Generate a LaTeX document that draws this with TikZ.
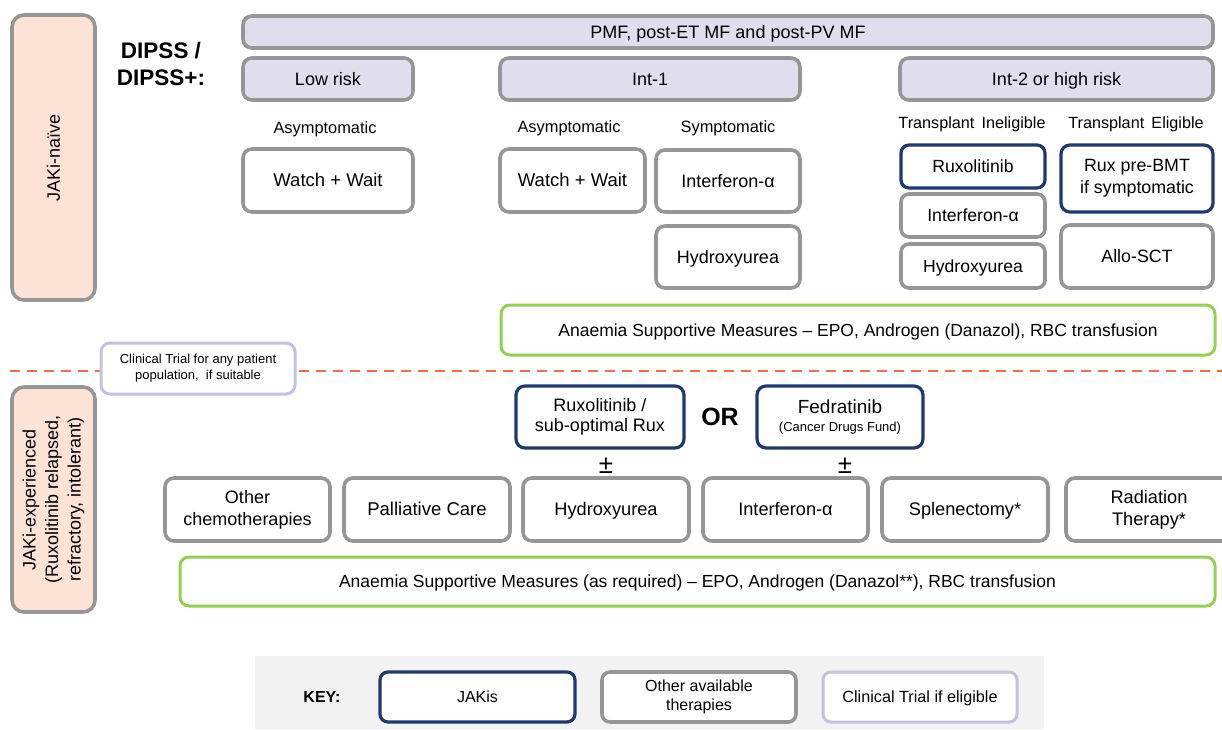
\documentclass[tikz,border=0pt]{standalone}
\usepackage{fontspec}
\setmainfont{Liberation Sans}
\definecolor{graybd}{RGB}{150,150,150}
\definecolor{navy}{RGB}{32,56,112}
\definecolor{grn}{RGB}{146,208,80}
\definecolor{lavfill}{RGB}{224,222,238}
\definecolor{lavbd}{RGB}{196,192,222}
\definecolor{salmon}{RGB}{252,227,214}
\definecolor{dashc}{RGB}{242,110,64}
\definecolor{keybg}{RGB}{242,242,242}
\newcommand\fs[2]{\fontsize{#1}{#2}\selectfont}
\tikzset{
  base/.style={rounded corners=9pt, align=center, inner sep=2pt, fill=white},
  graybox/.style={base, draw=graybd, line width=3.6pt},
  lavhead/.style={graybox, fill=lavfill},
  side/.style={graybox, fill=salmon},
  jakbox/.style={base, draw=navy, line width=3.2pt},
  grnbox/.style={base, draw=grn, line width=3pt},
  ctbox/.style={base, draw=lavbd, line width=3pt},
  lbl/.style={inner sep=0pt, align=center},
  sl/.code={\pgfmathsetlengthmacro\slh{0.72*#1pt}\pgfmathsetlengthmacro\sld{0.02*#1pt}%
    \pgfkeysalso{/tikz/text height/.expanded=\slh, /tikz/text depth/.expanded=\sld}},
}
\begin{document}
\begin{tikzpicture}[x=1pt,y=-1pt]
\useasboundingbox (0,0) rectangle (1222,729);
\clip (0,0) rectangle (1222,729);
\fill[white] (0,0) rectangle (1222,729);

% sidebars
\node[side, minimum width=83, minimum height=285, rounded corners=12pt] (naive) at (53.5,157.5) {};
\node[lbl, rotate=90, font=\fs{18}{21}] (naivet) at (naive.center) {JAKi-naïve};
\node[side, minimum width=83, minimum height=225, rounded corners=12pt] (exp) at (53.5,499.5) {};
\node[lbl, rotate=90, font=\fs{18}{22.5}] (expt) at (exp.center) {JAKi-experienced\\(Ruxolitinib relapsed,\\refractory, intolerant)};

% header
\node[lbl, font=\bfseries\fs{22.5}{27}] (dipss) at (161,64) {DIPSS /\\DIPSS+:};
\node[lavhead, sl=18, minimum width=970, minimum height=32, font=\fs{18}{21}] (pmf) at (728,32) {PMF, post-ET MF and post-PV MF};
\node[lavhead, sl=18, minimum width=170, minimum height=42, font=\fs{18}{21}] (low) at (328,79) {Low risk};
\node[lavhead, sl=18, minimum width=300, minimum height=42, font=\fs{18}{21}] (int1) at (650,79) {Int-1};
\node[lavhead, sl=18, minimum width=313, minimum height=42, font=\fs{18}{21}] (int2) at (1056.5,79) {Int-2 or high risk};

% sub labels
\node[lbl, sl=16.4, font=\fs{16.4}{19}] (asy1) at (325,128) {Asymptomatic};
\node[lbl, sl=16.4, font=\fs{16.4}{19}] (asy2) at (569,127) {Asymptomatic};
\node[lbl, sl=16.4, font=\fs{16.4}{19}] (sym) at (728,127) {Symptomatic};
\node[lbl, sl=16.2, font=\fs{16.2}{19}] (tin) at (972,123) {Transplant\ \,Ineligible};
\node[lbl, sl=16.2, font=\fs{16.2}{19}] (tel) at (1136,123) {Transplant\ \,Eligible};

% JAKi-naive boxes
\node[graybox, sl=18.5, minimum width=170, minimum height=63, font=\fs{18.5}{21}] (ww1) at (328,180.5) {Watch + Wait};
\node[graybox, sl=18.5, minimum width=145, minimum height=63, font=\fs{18.5}{21}] (ww2) at (572.5,180.5) {Watch + Wait};
\node[graybox, sl=18, minimum width=144, minimum height=62, font=\fs{18}{21}] (ifn1) at (728,181) {Interferon-α};
\node[graybox, sl=18, minimum width=144, minimum height=62, font=\fs{18}{21}] (hu1) at (728,257) {Hydroxyurea};
\node[jakbox, sl=17.6, minimum width=144, minimum height=43, font=\fs{17.6}{20}, rounded corners=8pt] (rux1) at (973,166.5) {Ruxolitinib};
\node[graybox, sl=17.6, minimum width=144, minimum height=43, font=\fs{17.6}{20}, rounded corners=8pt] (ifn2) at (973,215.5) {Interferon-α};
\node[graybox, sl=17.6, minimum width=144, minimum height=44, font=\fs{17.6}{20}, rounded corners=8pt] (hu2) at (973,266) {Hydroxyurea};
\node[jakbox, minimum width=152, minimum height=67, font=\fs{17.8}{22}] (ruxbmt) at (1137,178.5) {Rux pre-BMT\\if symptomatic};
\node[graybox, sl=17.8, minimum width=152, minimum height=63, font=\fs{17.8}{20}] (allo) at (1137,256.5) {Allo-SCT};
\node[grnbox, sl=17.5, minimum width=714, minimum height=50, font=\fs{17.5}{20}] (an1) at (858,330) {Anaemia Supportive Measures – EPO, Androgen (Danazol), RBC transfusion};

% divider and clinical trial
\coordinate (dl) at (10,371);
\coordinate (dr) at (1222,371);
\draw[dashc, line width=2.6pt, dash pattern=on 10pt off 7pt] (dl) -- (dr);
\node[ctbox, minimum width=194, minimum height=51, font=\fs{13}{16}] (ct) at (198,368.5) {Clinical Trial for any patient\\population,\ \ if suitable};

% JAKi-experienced
\node[jakbox, minimum width=168, minimum height=62, font=\fs{18}{20}] (ruxsub) at (600,417) {Ruxolitinib /\\sub-optimal Rux};
\node[lbl, sl=25, font=\bfseries\fs{25}{28}] (or) at (720,417) {OR};
\node[jakbox, minimum width=166, minimum height=62, font=\fs{19}{18}] (fed) at (840,417) {Fedratinib\\{\fs{13}{14}(Cancer Drugs Fund)}};
\node[lbl, font=\fs{26}{28}] (pm1) at (606,466) {±};
\node[lbl, font=\fs{26}{28}] (pm2) at (845,466) {±};

\node[graybox, minimum width=165, minimum height=63, font=\fs{18}{22}] (oc) at (247.5,509.5) {Other\\chemotherapies};
\node[graybox, sl=18.5, minimum width=166, minimum height=63, font=\fs{18.5}{21}] (pc) at (427,509.5) {Palliative Care};
\node[graybox, sl=18.2, minimum width=166, minimum height=63, font=\fs{18.2}{21}] (hu3) at (606,509.5) {Hydroxyurea};
\node[graybox, sl=18.2, minimum width=165, minimum height=63, font=\fs{18.2}{21}] (ifn3) at (785.5,509.5) {Interferon-α};
\node[graybox, sl=18.2, minimum width=166, minimum height=63, font=\fs{18.2}{21}] (spl) at (965,509.5) {Splenectomy*};
\node[graybox, minimum width=166, minimum height=63, font=\fs{18.2}{22}] (rad) at (1149,509.5) {Radiation\\Therapy*};
\node[grnbox, sl=17.5, minimum width=1035, minimum height=49, font=\fs{17.5}{20}] (an2) at (697.5,581.5) {Anaemia Supportive Measures (as required) – EPO, Androgen (Danazol**), RBC transfusion};

% key
\fill[keybg] (255,656) rectangle (1044,729);
\node[lbl, sl=16, font=\bfseries\fs{16}{19}] (key) at (322,697) {KEY:};
\node[jakbox, sl=16, minimum width=195, minimum height=50, font=\fs{16}{19}, rounded corners=8pt] (kj) at (477.5,697) {JAKis};
\node[graybox, minimum width=194, minimum height=50, font=\fs{16}{18.5}, rounded corners=8pt] (ko) at (699,697) {Other available\\therapies};
\node[ctbox, sl=16.2, minimum width=194, minimum height=50, font=\fs{16.2}{19}, rounded corners=8pt] (kc) at (920,697) {Clinical Trial if eligible};
\end{tikzpicture}
\end{document}
